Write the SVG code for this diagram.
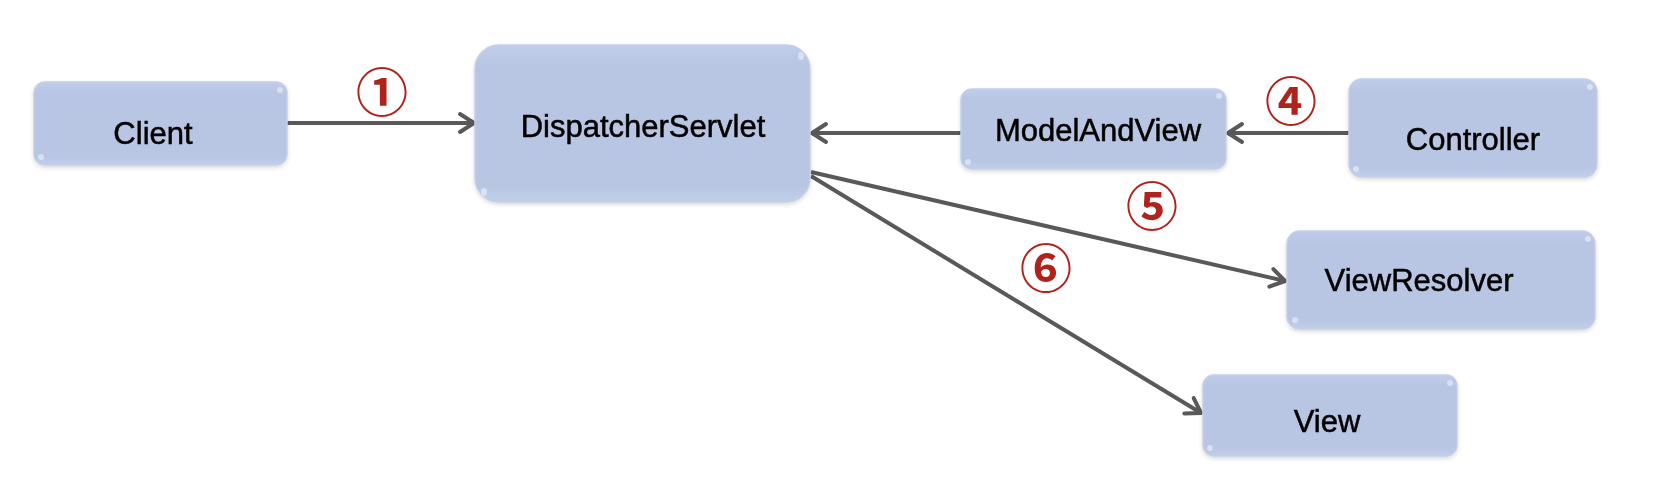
<svg xmlns="http://www.w3.org/2000/svg" width="1656" height="482" viewBox="0 0 1656 482">
<style>
.box{fill:url(#boxg);stroke:#c3cfe9;stroke-width:1.5}
.lbl{font-family:"Liberation Sans",Arial,sans-serif;font-size:31px;fill:#000;stroke:#000;stroke-width:0.5;text-anchor:middle}
.num{font-family:"Noto Sans CJK KR","DejaVu Sans",sans-serif;font-size:52px;font-weight:bold;fill:#b0221c;text-anchor:middle}
.edge{fill:none;stroke:#595959;stroke-width:4}
.glare{fill:#ffffff;opacity:0.45}
</style>
<defs>
<linearGradient id="boxg" x1="0" y1="0" x2="0" y2="1">
<stop offset="0" stop-color="#c0cdea"/>
<stop offset="0.12" stop-color="#b8c6e4"/>
<stop offset="0.9" stop-color="#b8c6e4"/>
<stop offset="1" stop-color="#c2cfea"/>
</linearGradient>
<filter id="sh" x="-10%" y="-10%" width="120%" height="130%">
<feGaussianBlur in="SourceAlpha" stdDeviation="2"/>
<feOffset dx="0" dy="2" result="b"/>
<feComponentTransfer><feFuncA type="linear" slope="0.15"/></feComponentTransfer>
<feMerge><feMergeNode/><feMergeNode in="SourceGraphic"/></feMerge>
</filter>
<marker id="arr" markerUnits="userSpaceOnUse" markerWidth="22" markerHeight="24" viewBox="0 0 22 24" refX="18" refY="12" orient="auto">
<path d="M4,3 L18,12 L4,21" fill="none" stroke="#595959" stroke-width="4" stroke-linecap="round" stroke-linejoin="round"/>
</marker>
</defs>
<rect width="1656" height="482" fill="#ffffff"/>

<g id="connectors">
<line class="edge" x1="287" y1="123" x2="474" y2="123" marker-end="url(#arr)"/>
<line class="edge" x1="961" y1="133" x2="812" y2="133" marker-end="url(#arr)"/>
<line class="edge" x1="1349" y1="133" x2="1228" y2="133" marker-end="url(#arr)"/>
<line class="edge" x1="811" y1="172" x2="1285" y2="281" marker-end="url(#arr)"/>
<line class="edge" x1="811" y1="176" x2="1201" y2="413" marker-end="url(#arr)"/>
</g>

<g id="node-client" filter="url(#sh)">
<rect class="box" x="34" y="82" width="253" height="83" rx="11"/>
<ellipse class="glare" cx="41" cy="157" rx="3" ry="3"/>
<ellipse class="glare" cx="280" cy="90" rx="3" ry="3"/>
<text class="lbl" x="153" y="144">Client</text>
</g>

<g id="node-dispatcher" filter="url(#sh)">
<rect class="box" x="475" y="45" width="335" height="157" rx="24"/>
<ellipse class="glare" cx="484" cy="192" rx="3" ry="4"/>
<ellipse class="glare" cx="801" cy="56" rx="3" ry="4"/>
<text class="lbl" x="643" y="137">DispatcherServlet</text>
</g>

<g id="node-modelandview" filter="url(#sh)">
<rect class="box" x="961" y="89" width="265" height="80" rx="11"/>
<ellipse class="glare" cx="968" cy="162" rx="3" ry="3"/>
<ellipse class="glare" cx="1219" cy="96" rx="3" ry="3"/>
<text class="lbl" x="1098" y="141">ModelAndView</text>
</g>

<g id="node-controller" filter="url(#sh)">
<rect class="box" x="1349" y="79" width="248" height="98" rx="13"/>
<ellipse class="glare" cx="1356" cy="169" rx="3" ry="3"/>
<ellipse class="glare" cx="1590" cy="87" rx="3" ry="3"/>
<text class="lbl" x="1473" y="150">Controller</text>
</g>

<g id="node-viewresolver" filter="url(#sh)">
<rect class="box" x="1287" y="231" width="308" height="98" rx="13"/>
<ellipse class="glare" cx="1295" cy="320" rx="3" ry="3"/>
<ellipse class="glare" cx="1588" cy="239" rx="3" ry="3"/>
<text class="lbl" x="1419" y="291">ViewResolver</text>
</g>

<g id="node-view" filter="url(#sh)">
<rect class="box" x="1203" y="375" width="254" height="81" rx="11"/>
<ellipse class="glare" cx="1210" cy="448" rx="3" ry="3"/>
<ellipse class="glare" cx="1450" cy="383" rx="3" ry="3"/>
<text class="lbl" x="1327" y="432">View</text>
</g>

<g id="labels">
<text class="num" x="382" y="112">①</text>
<text class="num" x="1291" y="121">④</text>
<text class="num" x="1152" y="226">⑤</text>
<text class="num" x="1046" y="288">⑥</text>
</g>
</svg>
